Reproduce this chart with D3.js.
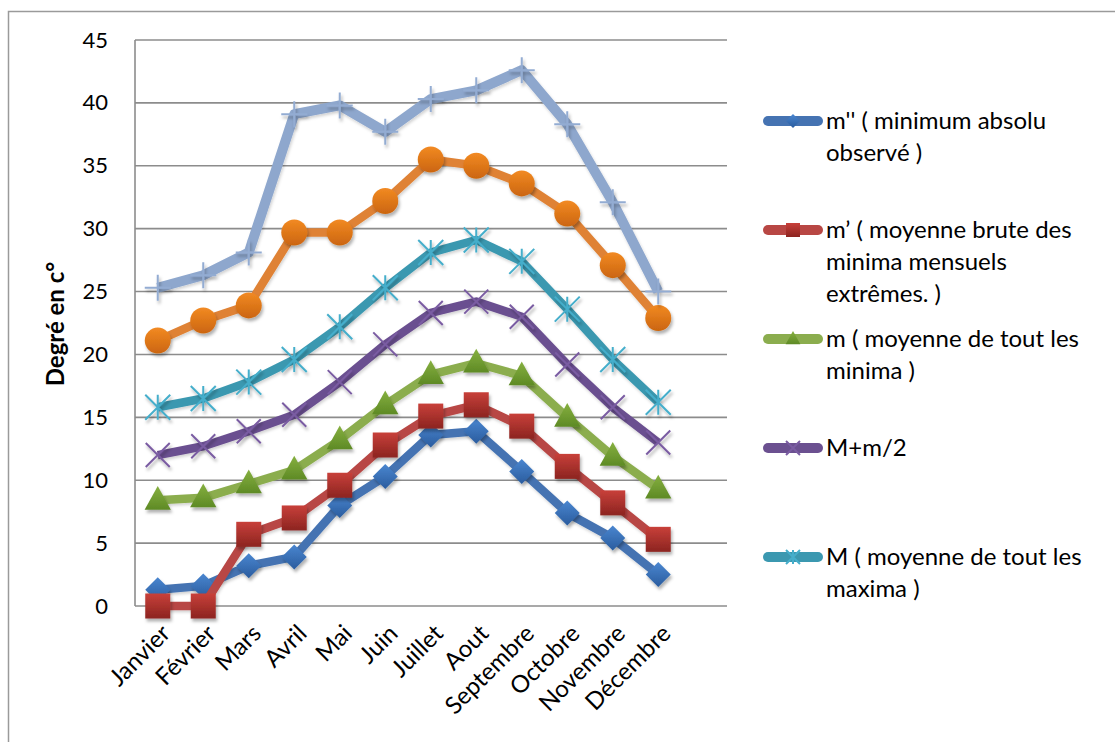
<!DOCTYPE html>
<html>
<head>
<meta charset="utf-8">
<script src="https://cdn.jsdelivr.net/npm/d3@7"></script>
<style>
  html, body { margin: 0; padding: 0; background: #fff; }
  svg { display: block; font-family: Lato, "Open Sans", sans-serif; }
</style>
</head>
<body>
<svg id="chart" width="1115" height="742"></svg>
<script>
// Monthly temperature statistics (°C)
const months = ["Janvier", "Février", "Mars", "Avril", "Mai", "Juin", "Juillet", "Aout", "Septembre", "Octobre", "Novembre", "Décembre"];
const yTicks = [0, 5, 10, 15, 20, 25, 30, 35, 40, 45];

const minAbsolu   = [1.3, 1.6, 3.2, 3.9, 8.0, 10.3, 13.6, 13.9, 10.7, 7.4, 5.4, 2.5];
const minExtremes = [0, 0, 5.7, 7.0, 9.6, 12.8, 15.1, 16.0, 14.3, 11.1, 8.2, 5.3];
const moyMinima   = [8.4, 8.6, 9.7, 10.8, 13.2, 16.0, 18.4, 19.3, 18.3, 15.0, 11.9, 9.3];
const moyMoitie   = [12.0, 12.7, 13.9, 15.2, 17.8, 20.8, 23.3, 24.2, 23.0, 19.2, 15.8, 13.0];
const moyMaxima   = [15.8, 16.5, 17.8, 19.6, 22.2, 25.3, 28.1, 29.1, 27.4, 23.6, 19.6, 16.2];
const maxMoyExt   = [21.1, 22.7, 23.9, 29.7, 29.7, 32.2, 35.5, 35.0, 33.6, 31.2, 27.1, 22.9];
const maxAbsolu   = [25.3, 26.3, 28.1, 39.1, 39.8, 37.7, 40.3, 41.0, 42.6, 38.3, 32.1, 25.0];

const series = [
  { key: "blue",   values: minAbsolu,   line: "#4573B2", top: "#4A86D0", bottom: "#2A5C9E", marker: "diamond",  legend: ["m'' ( minimum absolu", "observé )"] },
  { key: "red",    values: minExtremes, line: "#B84744", top: "#C8403A", bottom: "#8C2420", marker: "square",   legend: ["m’ ( moyenne brute des", "minima mensuels", "extrêmes. )"] },
  { key: "green",  values: moyMinima,   line: "#8BAD4E", top: "#86B040", bottom: "#5E8A25", marker: "triangle", legend: ["m ( moyenne de tout les", "minima  )"] },
  { key: "purple", values: moyMoitie,   line: "#6B5090", top: "#7A5CA2", bottom: "#5A3F80", marker: "x",        legend: ["M+m/2"] },
  { key: "teal",   values: moyMaxima,   line: "#3B98B0", top: "#45AECB", bottom: "#2E8AA3", marker: "star",     legend: ["M ( moyenne de tout les", "maxima )"] },
  { key: "orange", values: maxMoyExt,   line: "#DF8235", top: "#F28A22", bottom: "#CB6510", marker: "circle",   legend: null },
  { key: "light",  values: maxAbsolu,   line: "#8EA7CD", top: "#93ACD2", bottom: "#7F9BC6", marker: "plus",     legend: null }
];

const svg = d3.select("#chart");
const plot = { left: 135, top: 40, bottom: 606, gridRight: 727, catRight: 681 };

const x = d3.scaleBand().domain(months).range([plot.left, plot.catRight]);
const y = d3.scaleLinear().domain([0, 45]).range([plot.bottom, plot.top]);
const cx = m => x(m) + x.bandwidth() / 2;

const defs = svg.append("defs");
const shadow = defs.append("filter").attr("id", "shadow")
  .attr("x", "-30%").attr("y", "-30%").attr("width", "160%").attr("height", "160%");
shadow.append("feDropShadow").attr("dx", 1.5).attr("dy", 3).attr("stdDeviation", 1.8)
  .attr("flood-color", "#000").attr("flood-opacity", 0.3);
const lineShadow = defs.append("filter").attr("id", "lineShadow")
  .attr("x", "-10%").attr("y", "-10%").attr("width", "120%").attr("height", "120%");
lineShadow.append("feDropShadow").attr("dx", 1).attr("dy", 2).attr("stdDeviation", 1.5)
  .attr("flood-color", "#000").attr("flood-opacity", 0.18);

series.forEach(s => {
  const g = defs.append("linearGradient").attr("id", "grad-" + s.key)
    .attr("x1", 0).attr("y1", 0).attr("x2", 0).attr("y2", 1);
  g.append("stop").attr("offset", "0%").attr("stop-color", s.top);
  g.append("stop").attr("offset", "100%").attr("stop-color", s.bottom);
});

// Outer chart frame
svg.append("path")
  .attr("d", "M8.5,742 L8.5,11.5 L1115,11.5")
  .attr("fill", "none").attr("stroke", "#9a9a9a").attr("stroke-width", 1.5);

// Horizontal gridlines
svg.append("g").selectAll("line").data(yTicks).join("line")
  .attr("x1", plot.left).attr("x2", plot.gridRight)
  .attr("y1", d => y(d)).attr("y2", d => y(d))
  .attr("stroke", "#8c8c8c").attr("stroke-width", 1.6);

// Vertical axis line
svg.append("line")
  .attr("x1", plot.left).attr("x2", plot.left)
  .attr("y1", y(45)).attr("y2", y(0))
  .attr("stroke", "#8c8c8c").attr("stroke-width", 1.6);

// Y axis labels
const yAxis = d3.axisLeft(y).tickValues(yTicks).tickSize(0).tickPadding(27);
const yAxisG = svg.append("g").attr("transform", `translate(${plot.left},0)`).call(yAxis);
yAxisG.select(".domain").remove();
yAxisG.selectAll("text").attr("font-size", 22).attr("fill", "#000")
  .attr("font-family", "Lato, sans-serif");

// Y axis title
svg.append("text")
  .attr("transform", "translate(64,324) rotate(-90)")
  .attr("text-anchor", "middle")
  .attr("font-size", 24).attr("font-weight", "bold")
  .text("Degré en c°");

// X axis labels
svg.append("g").selectAll("text").data(months).join("text")
  .attr("transform", d => `translate(${cx(d) + 8},${plot.bottom + 23}) rotate(-45)`)
  .attr("text-anchor", "end")
  .attr("dy", "0.35em")
  .attr("font-size", 24)
  .text(d => d);

// Marker shapes
function drawMarker(sel, s, size) {
  const r = size / 2;
  const grad = `url(#grad-${s.key})`;
  switch (s.marker) {
    case "diamond":
      sel.append("path").attr("d", `M0,${-r}L${r},0L0,${r}L${-r},0Z`).attr("fill", grad);
      break;
    case "square":
      sel.append("rect").attr("x", -r).attr("y", -r).attr("width", size).attr("height", size).attr("fill", grad);
      break;
    case "triangle":
      sel.append("path").attr("d", `M0,${-r * 1.15}L${r * 1.05},${r * 0.75}L${-r * 1.05},${r * 0.75}Z`).attr("fill", grad);
      break;
    case "circle":
      sel.append("circle").attr("r", r).attr("fill", grad);
      break;
    case "x":
      sel.append("path").attr("d", `M${-r},${-r}L${r},${r}M${-r},${r}L${r},${-r}`)
        .attr("stroke", s.top).attr("stroke-width", 2).attr("fill", "none");
      break;
    case "star":
      sel.append("path").attr("d", `M${-r},${-r}L${r},${r}M${-r},${r}L${r},${-r}M0,${-r}L0,${r}`)
        .attr("stroke", s.top).attr("stroke-width", 2).attr("fill", "none");
      break;
    case "plus":
      sel.append("path").attr("d", `M${-r},0L${r},0M0,${-r}L0,${r}`)
        .attr("stroke", s.top).attr("stroke-width", 2).attr("fill", "none");
      break;
  }
}

const lineGen = d3.line().x((d, i) => cx(months[i])).y(d => y(d));

const markerSize = { diamond: 25, square: 25, triangle: 25, circle: 26, x: 24, star: 25, plus: 26 };

series.forEach(s => {
  const g = svg.append("g").attr("class", "series-" + s.key);
  g.append("path")
    .datum(s.values)
    .attr("d", lineGen)
    .attr("fill", "none")
    .attr("stroke", s.line)
    .attr("stroke-width", s.key === "light" ? 10 : 8.5)
    .attr("stroke-linejoin", "round")
    .attr("filter", "url(#lineShadow)");
  g.selectAll("g.pt").data(s.values).join("g")
    .attr("class", "pt")
    .attr("transform", (d, i) => `translate(${cx(months[i])},${y(d)})`)
    .attr("filter", "url(#shadow)")
    .each(function () { drawMarker(d3.select(this), s, markerSize[s.marker]); });
});

// Legend
const legendTop = [121, 230, 339, 448, 557];
const legend = svg.append("g");
series.filter(s => s.legend).forEach((s, i) => {
  const g = legend.append("g").attr("transform", `translate(0,${legendTop[i]})`);
  g.append("line").attr("x1", 768).attr("x2", 818).attr("y1", 0).attr("y2", 0)
    .attr("stroke", s.line).attr("stroke-width", 10).attr("stroke-linecap", "round");
  const m = g.append("g").attr("transform", "translate(793,0)");
  drawMarker(m, s, 14);
  const t = g.append("text").attr("x", 826).attr("y", 0).attr("font-size", 24);
  s.legend.forEach((line, j) => {
    t.append("tspan").attr("x", 826).attr("dy", j === 0 ? "0.35em" : 31.7).text(line);
  });
});
</script>
</body>
</html>
